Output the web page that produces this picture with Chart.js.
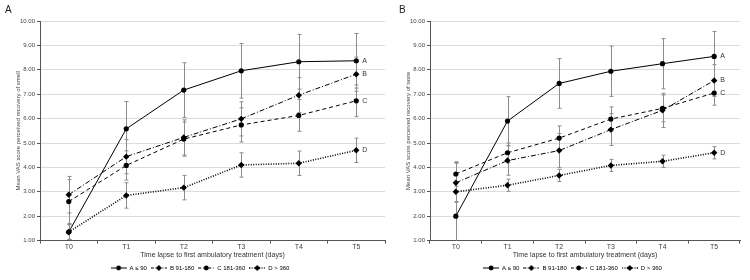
<!DOCTYPE html>
<html>
<head>
<meta charset="utf-8">
<script src="https://cdn.jsdelivr.net/npm/chart.js@4.4.0/dist/chart.umd.min.js"></script>
<style>
body{margin:0;background:#fff;width:750px;height:280px;position:relative;overflow:hidden;font-family:"Liberation Sans",Arial,sans-serif}
#smellChart{position:absolute;left:0;top:0}
#tasteChart{position:absolute;left:390px;top:0}
.panel{position:absolute;top:4px;font-size:10px;color:#222}
</style>
</head>
<body>
<canvas id="smellChart" width="390" height="283"></canvas>
<canvas id="tasteChart" width="360" height="283"></canvas>
<div class="panel" style="left:5px">A</div>
<div class="panel" style="left:399px">B</div>
<script>
var timeLabels=['T0','T1','T2','T3','T4','T5']
var groupNames=['A ≤ 90','B 91-180','C 181-360','D > 360']
var endTags=['A','B','C','D']

// smell (panel A) - means and error half-widths
var smellA=[1.35,5.58,7.17,7.96,8.33,8.37]
var smellB=[2.88,4.44,5.23,5.99,6.96,7.82]
var smellC=[2.60,4.08,5.16,5.74,6.13,6.73]
var smellD=[1.35,2.85,3.17,4.10,4.17,4.70]
var smellErrA=[0.30,1.12,1.12,1.12,1.12,1.12]
var smellErrB=[0.75,0.70,0.72,0.70,0.72,0.70]
var smellErrC=[0.90,0.60,0.70,0.70,0.65,0.65]
var smellErrD=[0.30,0.52,0.50,0.50,0.50,0.50]

// taste (panel B)
var tasteA=[2.00,5.90,7.44,7.94,8.25,8.55]
var tasteB=[3.37,4.28,4.69,5.55,6.34,7.56]
var tasteC=[3.73,4.60,5.20,5.98,6.42,7.05]
var tasteD=[3.00,3.27,3.67,4.08,4.25,4.60]
var tasteErrA=[2.20,1.00,1.02,1.03,1.03,1.02]
var tasteErrB=[0.80,0.60,0.70,0.65,0.70,0.65]
var tasteErrC=[0.50,0.40,0.50,0.50,0.55,0.50]
var tasteErrD=[0.40,0.25,0.25,0.25,0.25,0.25]

var lineDash=[[],[5,2,1,2],[4,3],[1,1.5]]
var lineWidths=[1,1,1,1.6]
var markers=['circle','rectRot','circle','rectRot']

function legendIcon(i){
  var c=document.createElement('canvas')
  c.width=16;c.height=8
  var g=c.getContext('2d')
  g.strokeStyle='#000';g.lineWidth=lineWidths[i]
  g.setLineDash(i==1?[3,1.5,1,1.5]:i==2?[3,2]:lineDash[i])
  g.beginPath();g.moveTo(0,4);g.lineTo(16,4);g.stroke()
  g.fillStyle='#000'
  g.beginPath()
  if(markers[i]=='circle'){g.arc(8,4,2.4,0,Math.PI*2)}
  else{g.moveTo(8,1);g.lineTo(11,4);g.lineTo(8,7);g.lineTo(5,4);g.closePath()}
  g.fill()
  return c
}
var icons=[0,1,2,3].map(legendIcon)

var errorBars={
  id:'errorBars',
  beforeDatasetsDraw(chart){
    var ctx=chart.ctx, y=chart.scales.y, a=chart.chartArea
    ctx.save()
    ctx.beginPath();ctx.rect(a.left,a.top,a.right-a.left,a.bottom-a.top);ctx.clip()
    ctx.strokeStyle='#8c8c8c';ctx.lineWidth=1
    chart.data.datasets.forEach(function(ds,i){
      chart.getDatasetMeta(i).data.forEach(function(pt,j){
        var top=y.getPixelForValue(ds.data[j]+ds.err[j])
        var bot=y.getPixelForValue(ds.data[j]-ds.err[j])
        var x=Math.round(pt.x)+0.5
        ctx.beginPath()
        ctx.moveTo(x,top);ctx.lineTo(x,bot)
        ctx.moveTo(x-2,top);ctx.lineTo(x+2,top)
        ctx.moveTo(x-2,bot);ctx.lineTo(x+2,bot)
        ctx.stroke()
      })
    })
    ctx.restore()
  }
}

var endLabels={
  id:'endLabels',
  afterDatasetsDraw(chart){
    var ctx=chart.ctx
    ctx.save()
    ctx.font='7px "Liberation Sans", Arial, sans-serif'
    ctx.fillStyle='#333';ctx.textBaseline='middle'
    chart.data.datasets.forEach(function(ds,i){
      var pts=chart.getDatasetMeta(i).data
      var p=pts[pts.length-1]
      ctx.fillText(endTags[i],p.x+6,p.y)
    })
    ctx.restore()
  }
}

function makeChart(id,series,errs,yTitle,padRight){
  var datasets=series.map(function(s,i){
    return {
      label:groupNames[i],data:s,err:errs[i],
      borderColor:'#000',borderWidth:lineWidths[i],borderDash:lineDash[i],
      pointStyle:markers[i],pointRadius:markers[i]=='circle'?2.6:3.2,
      pointBackgroundColor:'#000',pointBorderColor:'#000',pointBorderWidth:0,
      fill:false,tension:0
    }
  })
  return new Chart(document.getElementById(id),{
    type:'line',
    data:{labels:timeLabels,datasets:datasets},
    plugins:[errorBars,endLabels],
    options:{
      responsive:false,animation:false,
      layout:{padding:{left:15,right:padRight,top:21,bottom:2}},
      plugins:{
        tooltip:{enabled:false},
        legend:{
          position:'bottom',
          labels:{
            usePointStyle:true,pointStyleWidth:16,boxHeight:6,padding:4,
            color:'#333',font:{size:6,family:'"Liberation Sans", Arial, sans-serif'},
            generateLabels:function(){
              return groupNames.map(function(n,i){
                return {text:n,pointStyle:icons[i],datasetIndex:i,fillStyle:'#000',strokeStyle:'#000',lineWidth:0}
              })
            }
          }
        }
      },
      scales:{
        x:{
          offset:true,
          grid:{offset:true,drawOnChartArea:false,drawTicks:true,tickLength:3,tickColor:'#555'},
          border:{color:'#555'},
          ticks:{color:'#444',padding:0,font:{size:7,lineHeight:1,family:'"Liberation Sans", Arial, sans-serif'}},
          title:{display:true,text:'Time lapse to first ambulatory treatment (days)',color:'#333',
            padding:{top:0,bottom:2},font:{size:7,family:'"Liberation Sans", Arial, sans-serif'}}
        },
        y:{
          min:1,max:10,
          afterFit:function(s){s.width=25},
          ticks:{stepSize:1,color:'#444',padding:2,font:{size:6,family:'"Liberation Sans", Arial, sans-serif'},
            callback:function(v){return v.toFixed(2)}},
          grid:{color:'#dcdcdc',tickColor:'#555',tickLength:3},
          border:{color:'#555'},
          title:{display:true,text:yTitle,color:'#444',padding:0,
            font:{size:6,family:'"Liberation Sans", Arial, sans-serif'}}
        }
      }
    }
  })
}

makeChart('smellChart',[smellA,smellB,smellC,smellD],[smellErrA,smellErrB,smellErrC,smellErrD],
  'Mean VAS score perceived recovery of smell',5)
makeChart('tasteChart',[tasteA,tasteB,tasteC,tasteD],[tasteErrA,tasteErrB,tasteErrC,tasteErrD],
  'Mean VAS score perceived recovery of taste',10)
</script>
</body>
</html>
